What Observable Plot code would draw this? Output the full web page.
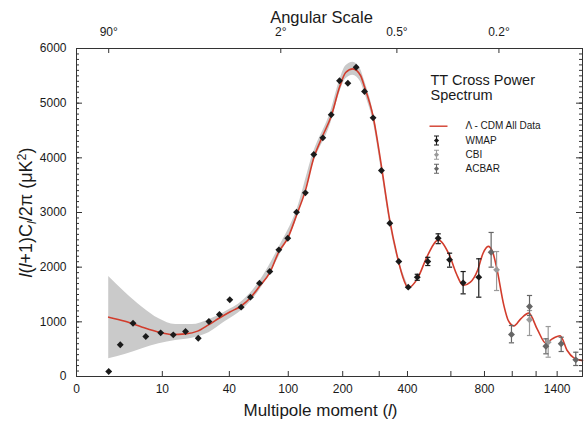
<!DOCTYPE html>
<html><head><meta charset="utf-8">
<script src="https://cdn.jsdelivr.net/npm/d3@7"></script>
<script src="https://cdn.jsdelivr.net/npm/@observablehq/plot@0.6"></script>
<style>body{margin:0;background:#fff} svg{display:block}</style>
</head><body><div id="chart"></div>
<script>
// ---- data ----
const wmapL = [2,3,4.5,6.5,9.6,13,17.1,22.3,27.5,33.5,40.3,48.9,56.9,65.6,76.7,87.5,99.3,112,126,140.5,157.4,174.4,192.6,212.3,233.3,256,281,307,335,367,403,440,486,535,593,668,763];
const wmapV = [91,580,975,732,799,762,823,700,1006,1134,1403,1268,1451,1707,1920,2317,2530,3006,3360,4061,4366,4787,5409,5365,5658,5213,4732,3768,2804,2103,1634,1817,2103,2530,2134,1713,1817];
const wmapErrL  = [440,486,535,593,668,763];
const wmapErrLo = [1760,2030,2430,2000,1512,1451];
const wmapErrHi = [1870,2180,2610,2256,1920,2153];
const cbiL  = [883,1142,1312];
const cbiV  = [1951,1037,628];
const cbiLo = [1573,750,353];
const cbiHi = [2286,1207,914];
const acbarL  = [845,994,1142,1290,1441,1597];
const acbarV  = [2274,768,1280,554,598,305];
const acbarLo = [2000,616,1116,415,457,201];
const acbarHi = [2635,933,1482,689,719,444];
const modelL = [2,3.5,5.9,9.2,12.7,17,22,27.5,33.5,40.3,48.9,56.9,65.6,76.7,87.5,99.3,112,126,140.5,157,174,193,207,225,245,256,281,307,335,360,380,403,440,485,535,593,630,668,711,755,790,825,855,883,936,970,1013,1070,1136,1209,1290,1351,1430,1504,1575,1673];
const modelV = [1085,1012,902,811,768,780,830,950,1070,1180,1290,1440,1650,1900,2280,2530,2950,3400,4000,4400,4750,5300,5560,5628,5506,5300,4760,3850,2850,2230,1850,1622,1786,2213,2500,2213,1880,1665,1725,1939,2250,2380,2280,2000,1300,1020,925,1060,1160,872,610,689,745,476,340,290];
const bandL  = [2,3.5,5.9,9.2,13.7,19.7,27.5,37,50,65,88,112,140,174,193,207,225,245,256,281,307,335,360,403];
const bandLo = [323,402,506,597,658,700,800,1000,1220,1560,2200,2870,3910,4640,5190,5440,5510,5390,5190,4670,3770,2790,2180,1590];
const bandHi = [1829,1542,1268,1055,951,951,1040,1180,1380,1720,2370,3030,4100,4860,5420,5680,5750,5620,5410,4860,3930,2910,2280,1655];
const xTickLabels = [0,10,40,100,200,400,800,1400];
const xMinorTicks = [300,600,1000,1200];
const angleTicks = [90,2,0.5,0.2];
const yTickLabels = [0,1000,2000,3000,4000,5000,6000];
const legendNames = ["\u039b - CDM All Data","WMAP","CBI","ACBAR"];

// ---- tables ----
const wmap = wmapL.map((l,i)=>({l, v: wmapV[i]}));
const wmapErr = wmapErrL.map((l,i)=>({l, lo: wmapErrLo[i], hi: wmapErrHi[i]}));
const cbi = cbiL.map((l,i)=>({l, v: cbiV[i], lo: cbiLo[i], hi: cbiHi[i]}));
const acbar = acbarL.map((l,i)=>({l, v: acbarV[i], lo: acbarLo[i], hi: acbarHi[i]}));
const model = modelL.map((l,i)=>({l, v: modelV[i]}));
const band = bandL.map((l,i)=>({l, lo: bandLo[i], hi: bandHi[i]}));
const yMinor = d3.range(0, 6001, 100);

const W = 584, H = 422, mL = 76, mR = 2, mT = 48, mB = 46;
const fW = W - mL - mR, fH = H - mT - mB;
const RED = "#d23c2c", C_W = "#1a1a1a", C_CBI = "#9a9a9a", C_AC = "#666666", AX = "#333";
const cap = {draw(c){ c.moveTo(-2.6,0); c.lineTo(2.6,0); }};
const hline = {draw(c){ c.moveTo(-9,0); c.lineTo(9,0); }};
const ebar = {draw(c){ c.moveTo(-2.5,-4.5); c.lineTo(2.5,-4.5); c.moveTo(0,-4.5); c.lineTo(0,4.5); c.moveTo(-2.5,4.5); c.lineTo(2.5,4.5); }};
const YKEY = "YLABELKEY", XKEY = "XLABELKEY";
const T = {lineAnchor: "middle"};

const marks = [
  Plot.areaY(band, {x:"l", y1:"lo", y2:"hi", fill:"#cacaca", curve:"monotone-x"}),
  Plot.line(model, {x:"l", y:"v", stroke: RED, strokeWidth: 1.6, curve:"monotone-x"}),
];
function errMarks(data, color){
  return [
    Plot.ruleX(data, {x:"l", y1:"lo", y2:"hi", stroke: color, strokeWidth: 1.2}),
    Plot.dot(data, {x:"l", y:"lo", symbol: cap, stroke: color, fill:"none", strokeWidth: 1.2}),
    Plot.dot(data, {x:"l", y:"hi", symbol: cap, stroke: color, fill:"none", strokeWidth: 1.2}),
  ];
}
marks.push(...errMarks(wmapErr, C_W), ...errMarks(cbi, C_CBI), ...errMarks(acbar, C_AC));
marks.push(
  Plot.dot(wmap, {x:"l", y:"v", symbol:"diamond2", r:3.1, fill: C_W}),
  Plot.dot(cbi, {x:"l", y:"v", symbol:"diamond2", r:3.1, fill: C_CBI}),
  Plot.dot(acbar, {x:"l", y:"v", symbol:"diamond2", r:3.1, fill: C_AC}),
  Plot.frame({stroke: AX}),
  // inward ticks
  Plot.tickX(xTickLabels.filter(d=>d>0).concat(xMinorTicks), {x: d=>d, insetTop: fH-5, stroke: AX}),
  Plot.tickX(angleTicks, {x: d=>180/d, insetBottom: fH-5, stroke: AX}),
  Plot.tickY(yMinor, {y: d=>d, insetRight: fW-3, stroke: AX}),
  Plot.tickY(yTickLabels, {y: d=>d, insetRight: fW-6, stroke: AX}),
  Plot.tickY(yMinor, {y: d=>d, insetLeft: fW-3, stroke: AX}),
  Plot.tickY(yTickLabels, {y: d=>d, insetLeft: fW-6, stroke: AX}),
  // tick labels
  Plot.text(xTickLabels, {...T, x: d=>d, text: d=>String(d), frameAnchor:"bottom", dy: 13, fontSize: 12}),
  Plot.text(angleTicks, {...T, x: d=>180/d, text: d=>d+"\u00b0", frameAnchor:"top", dy: -16, fontSize: 12}),
  Plot.text(yTickLabels, {...T, y: d=>d, text: d=>String(d), frameAnchor:"left", dx: -10, textAnchor:"end", fontSize: 12}),
  // titles
  Plot.text(["Angular Scale"], {...T, text: d=>d, frameAnchor:"top", textAnchor:"middle", dx: -8, dy: -31, fontSize: 16.5}),
  Plot.text([XKEY], {...T, text: d=>d, frameAnchor:"bottom", textAnchor:"middle", dx: -9, dy: 34, fontSize: 17}),
  Plot.text([YKEY], {...T, text: d=>d, frameAnchor:"left", textAnchor:"middle", dx: -50, rotate: -90, fontSize: 18, letterSpacing: 1.2}),
  // legend
  Plot.text(["TT Cross Power"], {...T, text: d=>d, frameAnchor:"top-left", dx: 354, dy: 32, textAnchor:"start", fontSize: 14.5}),
  Plot.text(["Spectrum"], {...T, text: d=>d, frameAnchor:"top-left", dx: 354, dy: 47, textAnchor:"start", fontSize: 14.5}),
  Plot.dot([0], {frameAnchor:"top-left", dx: 362, dy: 77.7, symbol: hline, stroke: RED, strokeWidth: 1.4, fill:"none"}),
);
const legY = [77.7, 92, 106.3, 120.3];
const legC = [null, C_W, C_CBI, C_AC];
legendNames.forEach((name, i) => {
  marks.push(Plot.text([name], {...T, text: d=>d, frameAnchor:"top-left", dx: 389, dy: legY[i], textAnchor:"start", fontSize: 10}));
  if (i > 0) {
    marks.push(Plot.dot([0], {frameAnchor:"top-left", dx: 360, dy: legY[i], symbol: ebar, stroke: legC[i], fill:"none", strokeWidth: 1.1}));
    marks.push(Plot.dot([0], {frameAnchor:"top-left", dx: 360, dy: legY[i], symbol: "diamond2", r: 2.3, fill: legC[i]}));
  }
});

const svg = Plot.plot({
  width: W, height: H, marginLeft: mL, marginRight: mR, marginTop: mT, marginBottom: mB,
  style: {fontFamily: "'Liberation Sans', Arial, Helvetica, sans-serif", color: "#1a1a1a", background: "#fff"},
  x: {type: "pow", exponent: 0.25, domain: [0.4866, 1673], clamp: true, axis: null},
  y: {domain: [0, 6000], axis: null},
  marks
});

function rich(key, parts) {
  d3.select(svg).selectAll("text").filter(function(){ return this.textContent === key; }).each(function(){
    const t = d3.select(this); t.text(null);
    let shift = 0;
    for (const p of parts) {
      const s = t.append("tspan").text(p.t);
      if (p.i) s.attr("font-style", "italic");
      let target = p.sub ? 4 : p.sup ? -6 : 0;
      if (target !== shift) { s.attr("dy", target - shift); shift = target; }
      if (p.sub || p.sup) s.attr("font-size", "70%");
    }
  });
}
rich(XKEY, [{t:"Multipole moment ("}, {t:"l", i:true}, {t:")"}]);
rich(YKEY, [{t:"l", i:true}, {t:"("}, {t:"l", i:true}, {t:"+1)C"}, {t:"l", i:true, sub:true}, {t:"/2\u03c0 (\u03bcK"}, {t:"2", sup:true}, {t:")"}]);
document.getElementById("chart").appendChild(svg);
</script>
</body></html>
